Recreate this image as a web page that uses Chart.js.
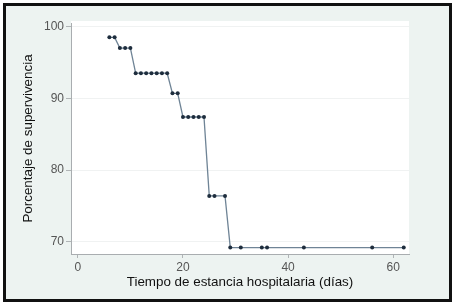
<!DOCTYPE html>
<html>
<head>
<meta charset="utf-8">
<script src="https://cdn.jsdelivr.net/npm/chart.js@4"></script>
<style>
  html, body { margin: 0; padding: 0; background: #fff; }
  #wrap { position: relative; width: 455px; height: 303px; overflow: hidden; }
  #frame {
    position: absolute; left: 3px; top: 3px; width: 443px; height: 293px;
    border: 3px solid #111; background: #edf3f1;
  }
  #chart { position: absolute; left: 0; top: 0; }
</style>
</head>
<body>
<div id="wrap">
  <div id="frame"></div>
  <canvas id="chart" width="455" height="303"></canvas>
</div>
<script>
// días de estancia (eje x)
const dias = [6, 7, 8, 9, 10, 11, 12, 13, 14, 15, 16, 17, 18, 19, 20, 21, 22, 23, 24, 25, 26, 28, 29, 31, 35, 36, 43, 56, 62];
// porcentaje de supervivencia en cada punto
const supervivencia = [
    98.5, 98.5,
    97.0, 97.0, 97.0,
    93.5, 93.5, 93.5, 93.5, 93.5, 93.5, 93.5,
    90.7, 90.7,
    87.4, 87.4, 87.4, 87.4, 87.4,
    76.4, 76.4, 76.4,
    69.2, 69.2, 69.2, 69.2, 69.2, 69.2, 69.2
];
const xTicks = [0, 20, 40, 60];
const yTicks = [70, 80, 90, 100];

const puntos = dias.map((d, i) => ({ x: d, y: supervivencia[i] }));

// fondo blanco del área del gráfico
const fondoArea = {
    id: 'fondoArea',
    beforeDraw(chart) {
        const { ctx, chartArea } = chart;
        ctx.save();
        ctx.fillStyle = '#ffffff';
        ctx.fillRect(chartArea.left, chartArea.top - 2, chartArea.right - chartArea.left, chartArea.bottom - chartArea.top + 2);
        ctx.restore();
    }
};

new Chart(document.getElementById('chart').getContext('2d'), {
    type: 'line',
    data: {
        datasets: [{
            data: puntos,
            borderColor: '#6f8496',
            borderWidth: 1.3,
            pointRadius: 2,
            pointBackgroundColor: '#1e2d3d',
            pointBorderColor: '#1e2d3d',
            pointBorderWidth: 0,
            tension: 0,
            fill: false
        }]
    },
    options: {
        responsive: false,
        animation: false,
        layout: { padding: { left: 0, right: 46, top: 23, bottom: 0 } },
        plugins: {
            legend: { display: false },
            tooltip: { enabled: false }
        },
        scales: {
            x: {
                type: 'linear',
                min: -1.3,
                max: 63,
                afterFit: (s) => { s.height = 49; },
                afterBuildTicks: (s) => { s.ticks = xTicks.map(v => ({ value: v })); },
                border: { display: true, color: '#a9adb0', width: 1 },
                grid: { display: true, drawOnChartArea: false, tickLength: 4, tickColor: '#b0b4b6' },
                ticks: { color: '#555', font: { family: 'Arial, "Liberation Sans"', size: 12 }, padding: 2, maxRotation: 0 },
                title: {
                    display: true,
                    text: 'Tiempo de estancia hospitalaria (días)',
                    color: '#111',
                    font: { family: 'Arial, "Liberation Sans"', size: 13.4 },
                    padding: { top: 0, bottom: 13 }
                }
            },
            y: {
                min: 68.3,
                max: 100.5,
                afterFit: (s) => { s.width = 71; },
                afterBuildTicks: (s) => { s.ticks = yTicks.map(v => ({ value: v })); },
                border: { display: true, color: '#a9adb0', width: 1 },
                grid: { color: '#f0f2f2', lineWidth: 1, tickLength: 5, tickColor: '#b0b4b6' },
                ticks: { color: '#555', font: { family: 'Arial, "Liberation Sans"', size: 12 }, padding: 2 },
                title: {
                    display: true,
                    text: 'Porcentaje de supervivencia',
                    color: '#111',
                    font: { family: 'Arial, "Liberation Sans"', size: 13.4 },
                    padding: { top: 20, bottom: 0 }
                }
            }
        }
    },
    plugins: [fondoArea]
});
</script>
</body>
</html>
